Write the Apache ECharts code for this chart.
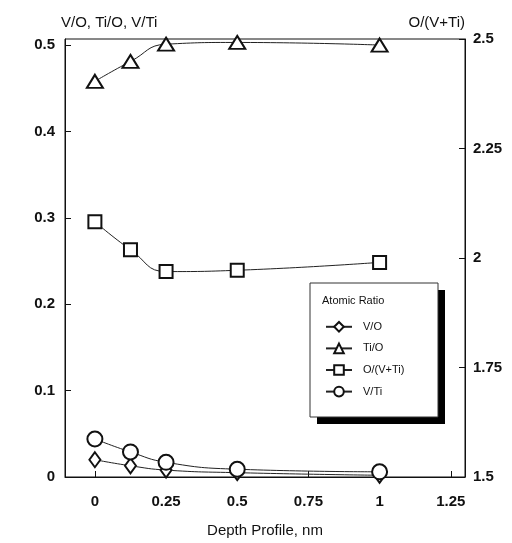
<!DOCTYPE html>
<html>
<head>
<meta charset="utf-8">
<script src="https://cdn.jsdelivr.net/npm/echarts@6/dist/echarts.min.js"></script>
<style>
  html, body { margin: 0; padding: 0; background: #fff; }
  #chart { width: 512px; height: 543px; }
</style>
</head>
<body>
<div id="chart"></div>
<script>
// depth profile (nm) and atomic ratios
var depth = [0, 0.125, 0.25, 0.5, 1];
var vO = [0.02, 0.013, 0.008, 0.005, 0.002];
var tiO = [0.458, 0.481, 0.501, 0.503, 0.5];
var oVTi = [2.083, 2.019, 1.969, 1.972, 1.99]; // right axis
var vTi = [0.044, 0.029, 0.017, 0.009, 0.006];

var xTicks = [0, 0.25, 0.5, 0.75, 1, 1.25];
var leftTicks = [0, 0.1, 0.2, 0.3, 0.4, 0.5];
var rightTicks = [1.5, 1.75, 2, 2.25, 2.5];

function pairs(ys) {
  return depth.map(function (x, i) { return [x, ys[i]]; });
}

var font = "'Liberation Sans', Arial, sans-serif";
var chart = echarts.init(document.getElementById("chart"), null, { renderer: "canvas" });

function lineSeries(name, ys, symbol, size, yIndex) {
  return {
    name: name,
    type: "line",
    yAxisIndex: yIndex || 0,
    data: pairs(ys),
    smooth: true,
    symbol: symbol,
    symbolSize: size,
    showAllSymbol: true,
    lineStyle: { color: "#222", width: 1 },
    itemStyle: { color: "#111", borderColor: "#111", borderWidth: 1 },
    emphasis: { disabled: true },
    animation: false
  };
}

var option = {
  backgroundColor: "#fff",
  animation: false,
  grid: {
    left: 65, right: 47, top: 39, bottom: 63,
    show: true, borderColor: "#111", borderWidth: 1
  },
  xAxis: {
    type: "value",
    min: -0.105,
    max: 1.3,
    name: "Depth Profile, nm",
    nameLocation: "middle",
    nameGap: 46,
    nameTextStyle: { fontFamily: font, fontSize: 15, color: "#111" },
    axisLine: { onZero: false, lineStyle: { color: "#111", width: 1 } },
    axisTick: { inside: true, length: 6, customValues: xTicks, lineStyle: { color: "#111" } },
    axisLabel: {
      customValues: xTicks, margin: 17,
      fontFamily: font, fontSize: 15, fontWeight: "bold", color: "#111"
    },
    splitLine: { show: false }
  },
  yAxis: [
    {
      type: "value",
      min: 0,
      max: 0.507,
      position: "left",
      name: "V/O, Ti/O, V/Ti",
      nameLocation: "end",
      nameGap: 9,
      nameTextStyle: { fontFamily: font, fontSize: 15, color: "#111", align: "left", padding: [0, 0, 0, -4] },
      axisLine: { show: true, onZero: false, lineStyle: { color: "#111", width: 1 } },
      axisTick: { inside: true, length: 6, customValues: leftTicks, lineStyle: { color: "#111" } },
      axisLabel: {
        customValues: leftTicks, margin: 10,
        fontFamily: font, fontSize: 15, fontWeight: "bold", color: "#111"
      },
      splitLine: { show: false }
    },
    {
      type: "value",
      min: 1.5,
      max: 2.5,
      interval: 0.25,
      position: "right",
      name: "O/(V+Ti)",
      nameLocation: "end",
      nameGap: 9,
      nameTextStyle: { fontFamily: font, fontSize: 15, color: "#111", align: "right" },
      axisLine: { show: true, onZero: false, lineStyle: { color: "#111", width: 1 } },
      axisTick: { inside: true, length: 6, customValues: rightTicks, lineStyle: { color: "#111" } },
      axisLabel: {
        customValues: rightTicks, margin: 8,
        fontFamily: font, fontSize: 15, fontWeight: "bold", color: "#111"
      },
      splitLine: { show: false }
    }
  ],
  legend: {
    orient: "vertical",
    left: 320,
    top: 316,
    itemWidth: 26,
    itemHeight: 12,
    itemGap: 10,
    selectedMode: false,
    textStyle: { fontFamily: font, fontSize: 11, color: "#111", padding: [0, 0, 0, 6] },
    data: ["V/O", "Ti/O", "O/(V+Ti)", "V/Ti"]
  },
  graphic: [
    { type: "rect", z: 1, shape: { x: 317, y: 290, width: 128, height: 134 }, style: { fill: "#000" } },
    { type: "rect", z: 2, shape: { x: 310, y: 283, width: 128, height: 134 }, style: { fill: "#fff", stroke: "#333", lineWidth: 1 } },
    { type: "text", z: 3, left: 322, top: 295, style: { text: "Atomic Ratio", font: "11px " + font, fill: "#111" } }
  ],
  series: [
    lineSeries("V/O", vO, "emptyDiamond", [11, 15]),
    lineSeries("Ti/O", tiO, "emptyTriangle", [16, 13]),
    lineSeries("O/(V+Ti)", oVTi, "emptyRect", 13, 1),
    lineSeries("V/Ti", vTi, "emptyCircle", 15)
  ]
};

chart.setOption(option);
</script>
</body>
</html>
